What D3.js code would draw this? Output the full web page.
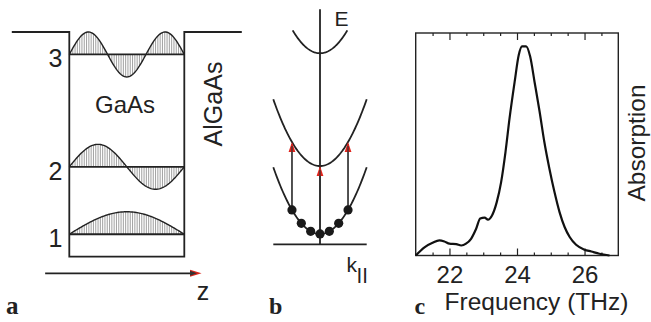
<!DOCTYPE html>
<html>
<head>
<meta charset="utf-8">
<script src="https://cdn.jsdelivr.net/npm/d3@7"></script>
<style>
  body { margin: 0; background: #fff; }
  svg { display: block; }
  text { font-family: "Liberation Sans", Arial, sans-serif; fill: #222; }
  .panel { font-family: "Liberation Serif", "Times New Roman", serif; font-weight: bold; }
</style>
</head>
<body>
<svg id="chart" width="651" height="322"></svg>
<script>
// (a) quantum well: subband energies (units of E1), quantum numbers, barrier height
const levelEnergies = [1, 4, 9];
const levelNumbers = [1, 2, 3];
const barrierHeight = 10;
const waveAmplitude = 1;

// (b) in-plane dispersion: subband minima, curvature, k range drawn
const subbandMinima = [0.44, 3.33, 8.13];
const subbandKmax = [2, 2, 1.17];
const curvature = 0.71;
const electronK = [-1.2, -0.8, -0.4, 0, 0.4, 0.8, 1.2];
const transitionK = [-1.2, 0, 1.2];

// (c) absorption spectrum
const frequency = [21.0, 21.26, 21.5, 21.7, 21.85, 22.0, 22.2, 22.35, 22.49, 22.64, 22.79, 22.91,
  23.04, 23.14, 23.26, 23.4, 23.53, 23.66, 23.78, 23.93, 24.05, 24.15, 24.27, 24.39, 24.52,
  24.67, 24.81, 24.96, 25.11, 25.26, 25.41, 25.56, 25.75, 26.0, 26.2, 26.44, 26.74];
const absorption = [0, 0.037, 0.057, 0.068, 0.063, 0.053, 0.051, 0.045, 0.053, 0.075, 0.12, 0.166,
  0.17, 0.161, 0.18, 0.24, 0.33, 0.466, 0.617, 0.78, 0.9, 0.94, 0.94, 0.894, 0.78,
  0.646, 0.51, 0.39, 0.285, 0.195, 0.128, 0.083, 0.048, 0.026, 0.018, 0.008, 0];
const freqTicks = [22, 24, 26];
const freqTickLabels = ["22", "24", "26"];

const svg = d3.select("#chart");
const ink = "#222";

// ---------- panel a ----------
const z = d3.scaleLinear().domain([0, 1]).range([69.3, 184.3]);
const e = d3.scaleLinear().domain([0, barrierHeight]).range([256.7, 32]);
const a = svg.append("g");

// well outline
a.append("path")
  .attr("fill", "none").attr("stroke", ink).attr("stroke-width", 1.8)
  .attr("d", d3.line()([
    [z(-0.5), e(barrierHeight)], [z(0), e(barrierHeight)], [z(0), e(0)],
    [z(1), e(0)], [z(1), e(barrierHeight)], [z(1.5), e(barrierHeight)]
  ]));

levelEnergies.forEach((E, i) => {
  const n = levelNumbers[i];
  const psi = t => E + waveAmplitude * Math.sin(n * Math.PI * t);

  // vertical hatching between level and wavefunction
  a.append("g").selectAll("line")
    .data(d3.range(0.01, 1, 0.02))
    .enter().append("line")
    .attr("x1", t => z(t)).attr("x2", t => z(t))
    .attr("y1", e(E)).attr("y2", t => e(psi(t)))
    .attr("stroke", "#777").attr("stroke-width", 0.7);

  a.append("path")
    .datum(d3.range(0, 1.0001, 0.01))
    .attr("fill", "none").attr("stroke", ink).attr("stroke-width", 1.4)
    .attr("d", d3.line().x(t => z(t)).y(t => e(psi(t))));

  a.append("line")
    .attr("x1", z(0)).attr("x2", z(1)).attr("y1", e(E)).attr("y2", e(E))
    .attr("stroke", ink).attr("stroke-width", 1.8);

  a.append("text")
    .attr("x", z(0) - 7).attr("y", e(E) + 13)
    .attr("text-anchor", "end").attr("font-size", 25)
    .text(n);
});

a.append("text").attr("x", 125).attr("y", 113.3)
  .attr("text-anchor", "middle").attr("font-size", 24).text("GaAs");
a.append("text").attr("transform", "translate(222,104) rotate(-90)")
  .attr("text-anchor", "middle").attr("font-size", 25).text("AlGaAs");

// z axis arrow
a.append("line")
  .attr("x1", z(-0.21)).attr("x2", z(1.07)).attr("y1", 273.3).attr("y2", 273.3)
  .attr("stroke", ink).attr("stroke-width", 1.8);
a.append("path")
  .attr("fill", "#d9261c")
  .attr("d", `M${z(1.15)},273.3 L${z(1.05)},269.8 L${z(1.05)},276.8 Z`);
a.append("path")
  .attr("fill", "#333")
  .attr("d", `M${z(1.11)},273.3 L${z(1.05)},270.8 L${z(1.05)},275.8 Z`);
a.append("text").attr("x", 203).attr("y", 300)
  .attr("text-anchor", "middle").attr("font-size", 25).text("z");
a.append("text").attr("class", "panel").attr("x", 6).attr("y", 313.5)
  .attr("font-size", 25).text("a");

// ---------- panel b ----------
const k = d3.scaleLinear().domain([-2, 2]).range([273.3, 366.7]);
const en = d3.scaleLinear().domain([0, 10]).range([244.3, 9.3]);
const b = svg.append("g");
const band = (i, kk) => subbandMinima[i] + curvature * kk * kk;

// axes
b.append("line").attr("x1", k(0)).attr("x2", k(0)).attr("y1", en(0)).attr("y2", en(10))
  .attr("stroke", ink).attr("stroke-width", 1.8);
b.append("line").attr("x1", k(-2)).attr("x2", k(2)).attr("y1", en(0)).attr("y2", en(0))
  .attr("stroke", ink).attr("stroke-width", 1.8);

subbandMinima.forEach((m, i) => {
  const km = subbandKmax[i];
  b.append("path")
    .datum(d3.range(-km, km + 0.001, km / 40))
    .attr("fill", "none").attr("stroke", ink).attr("stroke-width", 1.8)
    .attr("d", d3.line().x(kk => k(kk)).y(kk => en(band(i, kk))));
});

// intersubband transitions
transitionK.forEach(kk => {
  const y0 = en(band(0, kk)), y1 = en(band(1, kk));
  b.append("line").attr("x1", k(kk)).attr("x2", k(kk)).attr("y1", y0).attr("y2", y1 + 2)
    .attr("stroke", "#333").attr("stroke-width", 1.7);
  b.append("path").attr("fill", "#e0231b")
    .attr("d", `M${k(kk)},${y1} L${k(kk) - 3.4},${y1 + 10} L${k(kk) + 3.4},${y1 + 10} Z`);
  b.append("line").attr("x1", k(kk)).attr("x2", k(kk)).attr("y1", y1 + 4).attr("y2", y1 + 10)
    .attr("stroke", "#333").attr("stroke-width", 1.2);
});

b.selectAll("circle")
  .data(electronK)
  .enter().append("circle")
  .attr("cx", kk => k(kk)).attr("cy", kk => en(band(0, kk)))
  .attr("r", 4.6).attr("fill", "#1a1a1a");

b.append("text").attr("x", 334.5).attr("y", 25.7).attr("font-size", 21).text("E");
const kl = b.append("text").attr("x", 346.5).attr("y", 272).attr("font-size", 21);
kl.append("tspan").text("k");
kl.append("tspan").attr("dy", 11).attr("font-size", 21).attr("letter-spacing", 1).text("ll");
b.append("text").attr("class", "panel").attr("x", 269).attr("y", 314)
  .attr("font-size", 24).text("b");

// ---------- panel c ----------
const x = d3.scaleLinear().domain([21, 27]).range([415.7, 618.3]);
const y = d3.scaleLinear().domain([0, 1]).range([255.5, 33]);
const c = svg.append("g");
const minorTicks = d3.range(21.5, 27, 0.5).filter(v => !freqTicks.includes(v));

c.append("g").attr("transform", `translate(0,${y(0)})`)
  .call(d3.axisBottom(x).tickValues(minorTicks).tickSize(-3).tickFormat(""))
  .call(g => g.select(".domain").remove());
c.append("g").attr("transform", `translate(0,${y(0)})`)
  .call(d3.axisBottom(x).tickValues(freqTicks).tickSize(-7).tickPadding(10)
    .tickFormat((d, i) => freqTickLabels[i]))
  .call(g => g.select(".domain").remove())
  .call(g => g.selectAll("text").attr("font-size", 24).attr("font-family", null).attr("fill", ink));
c.append("g").attr("transform", `translate(0,${y(1)})`)
  .call(d3.axisTop(x).tickValues(minorTicks).tickSize(-3).tickFormat(""))
  .call(g => g.select(".domain").remove());
c.append("g").attr("transform", `translate(0,${y(1)})`)
  .call(d3.axisTop(x).tickValues(freqTicks).tickSize(-7).tickFormat(""))
  .call(g => g.select(".domain").remove());
c.selectAll(".tick line").attr("stroke", ink).attr("stroke-width", 1.2);

c.append("rect")
  .attr("x", x(21)).attr("y", y(1)).attr("width", x(27) - x(21)).attr("height", y(0) - y(1))
  .attr("fill", "none").attr("stroke", ink).attr("stroke-width", 1.4);

c.append("path")
  .datum(d3.zip(frequency, absorption))
  .attr("fill", "none").attr("stroke", "#111").attr("stroke-width", 2.2)
  .attr("stroke-linejoin", "round")
  .attr("d", d3.line().x(d => x(d[0])).y(d => y(d[1])).curve(d3.curveMonotoneX));

c.append("text").attr("x", 536.5).attr("y", 310)
  .attr("text-anchor", "middle").attr("font-size", 24.5).text("Frequency (THz)");
c.append("text").attr("transform", "translate(645,143) rotate(-90)")
  .attr("text-anchor", "middle").attr("font-size", 24.5).text("Absorption");
c.append("text").attr("class", "panel").attr("x", 414.5).attr("y", 313.5)
  .attr("font-size", 24).text("c");
</script>
</body>
</html>
